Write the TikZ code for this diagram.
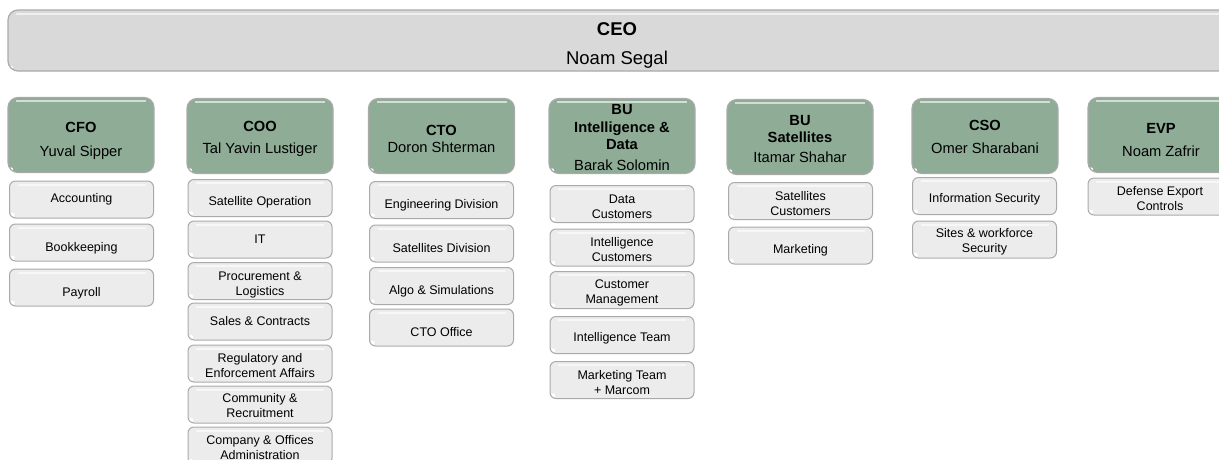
\documentclass[tikz,border=0pt]{standalone}
\usepackage{fontspec}
\setmainfont{Liberation Sans}
\definecolor{ceogray}{RGB}{217,217,217}
\definecolor{headgreen}{RGB}{142,172,150}
\definecolor{unitgray}{RGB}{236,236,236}
\definecolor{edgegray}{RGB}{170,170,170}
% pushes the text of a box down by #1
\newcommand\tdown[1]{\rule{0pt}{\dimexpr\fontcharht\font`\l+#1*2\relax}}
\tikzset{
  gloss/.style={path picture={
      \fill[white,opacity=.6,sharp corners] ([xshift=8pt,yshift=-2.5pt]path picture bounding box.north west)
        rectangle ([xshift=-8pt,yshift=-4.5pt]path picture bounding box.north east);
      \fill[white] ([xshift=3pt,yshift=3pt]path picture bounding box.south west) circle (2.2pt);}},
  ceo/.style={gloss,draw=edgegray,line width=1.2pt,fill=ceogray,rounded corners=10pt,
    minimum width=1232pt,minimum height=61pt,inner sep=1pt,align=center,
    font=\fontsize{18.5}{22}\selectfont},
  head/.style={gloss,draw=edgegray,line width=1.2pt,fill=headgreen,rounded corners=10pt,
    minimum width=146pt,minimum height=75pt,inner sep=1pt,align=center,
    font=\fontsize{14.7}{17.4}\selectfont},
  unit/.style={gloss,draw=edgegray,line width=1pt,fill=unitgray,rounded corners=6pt,
    minimum width=144pt,minimum height=37pt,inner sep=1pt,align=center,
    font=\fontsize{12.5}{15}\selectfont}
}
\begin{document}
\begin{tikzpicture}[x=1pt,y=-1pt]
  \useasboundingbox (0,0) rectangle (1219,459);
  \clip (0,0) rectangle (1219,459);
  % top
  \node[ceo] (ceo) at (624,40.5) {\tdown{5pt}\textbf{CEO}\hspace*{14pt}\\[7pt]Noam Segal\hspace*{14pt}};
  % heads
  \node[head] (cfo) at (81,135) {\tdown{6pt}\textbf{CFO}\\[6pt]Yuval Sipper};
  \node[head] (coo) at (260,136) {\tdown{3pt}\textbf{COO}\\[4pt]Tal Yavin Lustiger};
  \node[head] (cto) at (441.5,136) {\tdown{3pt}\textbf{CTO}\\Doron Shterman};
  \node[head] (buid) at (622,136) {\tdown{1.5pt}\textbf{BU}\\\textbf{Intelligence \&}\\\textbf{Data}\\[3pt]Barak Solomin};
  \node[head] (busat) at (800,137) {\tdown{2pt}\textbf{BU}\\\textbf{Satellites}\\[3pt]Itamar Shahar};
  \node[head] (cso) at (985,136) {\tdown{1pt}\textbf{CSO}\\[5pt]Omer Sharabani};
  \node[head] (evp) at (1161,135) {\tdown{5pt}\textbf{EVP}\\[6pt]Noam Zafrir};
  % CFO
  \node[unit] (acc) at (81.5,199.5) {Accounting};
  \node[unit] (book) at (81.5,242.5) {\tdown{6pt}Bookkeeping};
  \node[unit] (pay) at (81.5,287.5) {\tdown{6pt}Payroll};
  % COO
  \node[unit] (satop) at (260,198) {\tdown{4pt}Satellite Operation};
  \node[unit] (it) at (260,239.5) {IT};
  \node[unit] (proc) at (260,281) {\tdown{3.5pt}Procurement \&\\Logistics};
  \node[unit] (sales) at (260,321.5) {Sales \& Contracts};
  \node[unit] (reg) at (260,363.5) {\tdown{2pt}Regulatory and\\Enforcement Affairs};
  \node[unit] (comm) at (260,404.5) {\tdown{1.5pt}Community \&\\Recruitment};
  \node[unit] (admin) at (260,445.5) {\tdown{2pt}Company \& Offices\\Administration};
  % CTO
  \node[unit] (eng) at (441.5,200) {\tdown{5pt}Engineering Division};
  \node[unit] (satdiv) at (441.5,243.5) {\tdown{5pt}Satellites Division};
  \node[unit] (algo) at (441.5,286) {\tdown{5pt}Algo \& Simulations};
  \node[unit] (ctooff) at (441.5,327.5) {\tdown{5pt}CTO Office};
  % BU intelligence
  \node[unit] (data) at (622,204) {\tdown{3pt}Data\\Customers};
  \node[unit] (intcust) at (622,247.5) {\tdown{2pt}Intelligence\\Customers};
  \node[unit] (custmgmt) at (622,290) {\tdown{3pt}Customer\\Management};
  \node[unit] (intteam) at (622,335) {\tdown{3pt}Intelligence Team};
  \node[unit] (mkteam) at (622,380) {\tdown{3pt}Marketing Team\\+ Marcom};
  % BU satellites
  \node[unit] (satcust) at (800.5,201) {\tdown{3pt}Satellites\\Customers};
  \node[unit] (mkt) at (800.5,245.5) {\tdown{5pt}Marketing};
  % CSO
  \node[unit] (infosec) at (984.5,196) {\tdown{3pt}Information Security};
  \node[unit] (sites) at (984.5,239.5) {\tdown{2pt}Sites \& workforce\\Security};
  % EVP
  \node[unit] (defexp) at (1160,196.5) {\tdown{2pt}Defense Export\\Controls};
\end{tikzpicture}
\end{document}
